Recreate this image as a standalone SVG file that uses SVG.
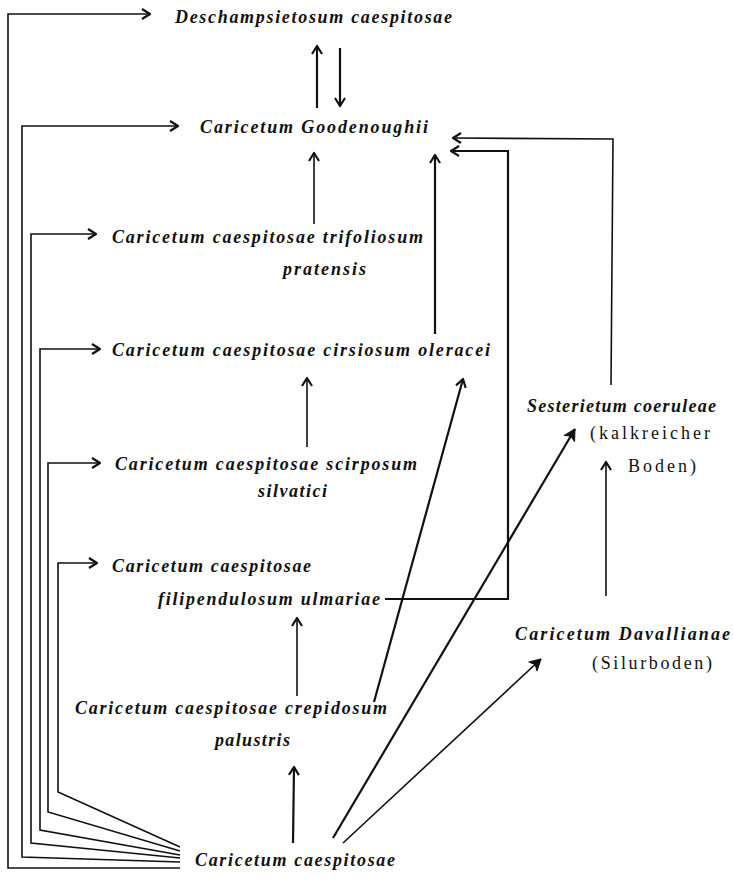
<svg xmlns="http://www.w3.org/2000/svg" width="733" height="879" viewBox="0 0 733 879">
<style>
.t{font-family:"Liberation Serif","DejaVu Serif",serif;font-style:italic;font-weight:bold;font-size:18px;fill:#111}
.u{font-family:"Liberation Serif","DejaVu Serif",serif;font-size:18px;fill:#111}
.l{fill:none;stroke:#111;stroke-width:1.6}
.h{fill:none;stroke:#111;stroke-width:2.2}
</style>
<defs>
<marker id="a" markerUnits="userSpaceOnUse" viewBox="0 0 12 12" markerWidth="12" markerHeight="12" refX="10" refY="6" orient="auto">
<path d="M2,1 L10,6 L2,11" fill="none" stroke="#111" stroke-width="2.2" stroke-linejoin="round"/>
</marker>
<marker id="b" markerUnits="userSpaceOnUse" viewBox="0 0 14 14" markerWidth="14" markerHeight="14" refX="12" refY="7" orient="auto">
<path d="M1,1 L12,7 L1,13 L4,7 Z" fill="#111" stroke="#111" stroke-width="1" stroke-linejoin="round"/>
</marker>
</defs>
<rect width="733" height="879" fill="#fff"/>
<g id="connectors">
<polyline class="l" points="180,868 8,868 8,14 150,14" marker-end="url(#a)"/>
<polyline class="l" points="180,862 22,857 22,126 178,126" marker-end="url(#a)"/>
<polyline class="l" points="180,858 31,843 31,234 96,234" marker-end="url(#a)"/>
<polyline class="l" points="180,855 40,830 40,349 100,349" marker-end="url(#a)"/>
<polyline class="l" points="180,851 48,812 48,463 100,463" marker-end="url(#a)"/>
<polyline class="l" points="180,847 58,792 58,563 97,563" marker-end="url(#a)"/>
<line class="h" x1="317" y1="108" x2="317" y2="46" marker-end="url(#a)"/>
<line class="h" x1="340" y1="48" x2="340" y2="106" marker-end="url(#a)"/>
<line class="l" x1="314" y1="224" x2="314" y2="153" marker-end="url(#a)"/>
<line class="h" x1="435" y1="334" x2="435" y2="155" marker-end="url(#a)"/>
<polyline class="h" points="385,599 508,599 508,151 451,151" marker-end="url(#a)"/>
<polyline class="l" points="611,385 613,139 453,138" marker-end="url(#a)"/>
<line class="l" x1="606" y1="596" x2="606" y2="462" marker-end="url(#a)"/>
<line class="l" x1="307" y1="447" x2="307" y2="378" marker-end="url(#a)"/>
<line class="h" x1="374" y1="702" x2="463" y2="379" marker-end="url(#a)"/>
<line class="l" x1="297" y1="696" x2="297" y2="618" marker-end="url(#a)"/>
<line class="h" x1="293" y1="843" x2="294" y2="767" marker-end="url(#a)"/>
<line class="h" x1="333" y1="838" x2="575" y2="429" marker-end="url(#b)"/>
<line class="l" x1="343" y1="843" x2="541" y2="659" marker-end="url(#b)"/>
</g>
<g id="n1"><text class="t" x="175" y="23" textLength="277" lengthAdjust="spacing">Deschampsietosum caespitosae</text></g>
<g id="n2"><text class="t" x="200" y="133" textLength="228" lengthAdjust="spacing">Caricetum Goodenoughii</text></g>
<g id="n3"><text class="t" x="112" y="243" textLength="311" lengthAdjust="spacing">Caricetum caespitosae trifoliosum</text><text class="t" x="283" y="275" textLength="83" lengthAdjust="spacing">pratensis</text></g>
<g id="n4"><text class="t" x="112" y="356" textLength="378" lengthAdjust="spacing">Caricetum caespitosae cirsiosum oleracei</text></g>
<g id="n5"><text class="t" x="115" y="470" textLength="302" lengthAdjust="spacing">Caricetum caespitosae scirposum</text><text class="t" x="258" y="497" textLength="69" lengthAdjust="spacing">silvatici</text></g>
<g id="n6"><text class="t" x="112" y="572" textLength="199" lengthAdjust="spacing">Caricetum caespitosae</text><text class="t" x="158" y="605" textLength="222" lengthAdjust="spacing">filipendulosum ulmariae</text></g>
<g id="n7"><text class="t" x="75" y="714" textLength="312" lengthAdjust="spacing">Caricetum caespitosae crepidosum</text><text class="t" x="215" y="746" textLength="75" lengthAdjust="spacing">palustris</text></g>
<g id="n8"><text class="t" x="195" y="866" textLength="200" lengthAdjust="spacing">Caricetum caespitosae</text></g>
<g id="n9"><text class="t" x="527" y="412" textLength="189" lengthAdjust="spacing">Sesterietum coeruleae</text><text class="u" x="590" y="439" textLength="120" lengthAdjust="spacing">(kalkreicher</text><text class="u" x="628" y="472" textLength="68" lengthAdjust="spacing">Boden)</text></g>
<g id="n10"><text class="t" x="515" y="640" textLength="215" lengthAdjust="spacing">Caricetum Davallianae</text><text class="u" x="592" y="669" textLength="120" lengthAdjust="spacing">(Silurboden)</text></g>
</svg>
